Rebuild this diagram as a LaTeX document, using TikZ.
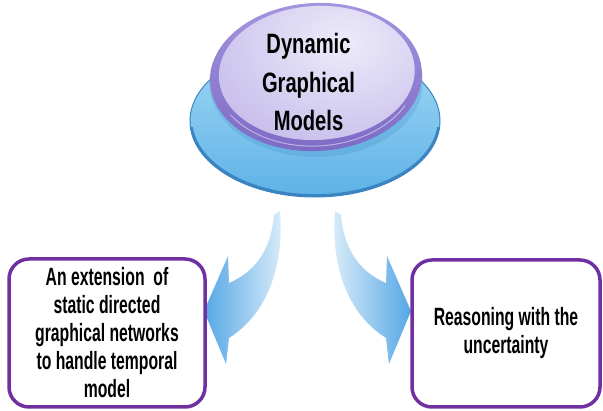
\documentclass[tikz,border=0pt]{standalone}
\usepackage{fontspec}
\newfontfamily\headfont[FakeStretch=0.72]{Liberation Sans}
\newfontfamily\boxfont[FakeStretch=0.63]{Liberation Sans}

\definecolor{boxpurple}{HTML}{7030A0}
\definecolor{baseTop}{HTML}{A3D9F6}
\definecolor{baseBot}{HTML}{5DB2E6}
\definecolor{baseEdge}{HTML}{3A84C2}
\definecolor{rimTop}{HTML}{A494DE}
\definecolor{rimBot}{HTML}{7C6AC5}
\definecolor{faceLight}{HTML}{EEEBFA}
\definecolor{faceDark}{HTML}{A698DF}
\definecolor{arrowBlue}{HTML}{55A7E6}
\definecolor{arrowPale}{HTML}{DCEDF9}

\tikzset{
  title/.style={font=\headfont\bfseries\fontsize{28}{38.5}\selectfont,
    align=center, text=black, inner sep=0pt},
  infobox/.style={draw=boxpurple, line width=3.5pt, rounded corners=20pt,
    fill=white, align=center, inner sep=0pt,
    font=\boxfont\bfseries\fontsize{25}{28}\selectfont},
}

\begin{document}
\begin{tikzpicture}[x=1pt,y=-1pt]
\useasboundingbox (0,0) rectangle (603,411);

% blue base disc
\shade[top color=baseTop, bottom color=baseBot, draw=baseEdge, line width=1pt]
  (315,121) ellipse (125 and 76);
% darker lower rim of the disc
\begin{scope}
  \clip (180,128) rectangle (450,210);
  \draw[baseEdge, line width=2.6pt] (315,120) ellipse (124 and 75.5);
\end{scope}
% soft shadow of the cap on the disc
\fill[baseEdge, opacity=.22] (316,82) ellipse (107 and 75);

% purple cap: rim, slightly tilted
\begin{scope}[rotate around={3:(316,77)}]
  \shade[top color=rimTop, bottom color=rimBot] (316,77) ellipse (106 and 74);
  % thin light bevel along the lower rim
  \begin{scope}
    \clip (200,110) rectangle (430,160);
    \draw[faceLight, opacity=.55, line width=1pt] (316,74) ellipse (101 and 72);
  \end{scope}
  % cap face
  \begin{scope}
    \clip (317,73) ellipse (98 and 67);
    \shade[inner color=faceLight, outer color=faceDark] (345,40) ellipse (270 and 200);
  \end{scope}
\end{scope}
\node[title] (dgm) at (308.5,82) {Dynamic\\Graphical\\Models};

% curved block arrows
\shade[left color=arrowBlue, right color=arrowPale]
  (280,211) .. controls (284,262) and (270,312) .. (229,338)
  -- (226,364) -- (204,311) -- (228,256) -- (229,283)
  .. controls (255,272) and (271,250) .. (274,215) -- cycle;
\shade[left color=arrowPale, right color=arrowBlue]
  (335,211) .. controls (331,262) and (345,312) .. (386,338)
  -- (389,364) -- (411,311) -- (387,256) -- (386,283)
  .. controls (360,272) and (344,250) .. (341,215) -- cycle;

% text boxes
\node[infobox, minimum width=196pt, minimum height=148pt] (ext) at (107,333)
  {An extension~ of\\static directed\\graphical networks\\to handle temporal\\model};
\node[infobox, minimum width=188pt, minimum height=147pt] (unc) at (506,333.5)
  {Reasoning with the\\uncertainty};
\end{tikzpicture}
\end{document}
